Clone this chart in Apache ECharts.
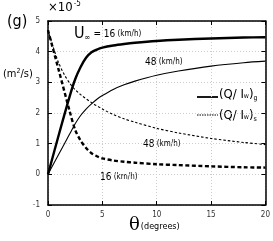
<!DOCTYPE html>
<html><head><meta charset="utf-8">
<script src="https://cdn.jsdelivr.net/npm/echarts@6/dist/echarts.min.js"></script>
<style>html,body{margin:0;padding:0;background:#fff}#c{width:273px;height:241px}</style>
</head><body><div id="c"></div>
<script>
const xTicks = [0, 5, 10, 15, 20];
const yTicks = [-1, 0, 1, 2, 3, 4, 5];
const thetaG16 = [0, 1, 2, 2.5, 3, 3.5, 4, 4.5, 5, 6, 7, 8, 10, 12, 15, 18, 20];
const g16 = [0, 1.3, 2.55, 3.1, 3.5, 3.8, 3.98, 4.07, 4.13, 4.2, 4.25, 4.29, 4.35, 4.39, 4.43, 4.46, 4.47];
const thetaG48 = [0, 1, 2, 2.5, 3, 3.5, 4, 4.5, 5, 6, 7, 8, 10, 12, 15, 18, 20];
const g48 = [0, 0.66, 1.32, 1.65, 1.92, 2.13, 2.3, 2.45, 2.57, 2.77, 2.92, 3.04, 3.23, 3.37, 3.53, 3.64, 3.69];
const thetaS16 = [0, 1, 2, 2.5, 3, 3.5, 4, 4.5, 5, 6, 7, 8, 10, 12, 15, 18, 20];
const s16 = [4.7, 3.38, 2.05, 1.45, 1.1, 0.86, 0.69, 0.59, 0.52, 0.45, 0.41, 0.38, 0.33, 0.3, 0.26, 0.23, 0.22];
const thetaS48 = [0, 0.5, 1, 1.5, 2, 2.5, 3, 4, 5, 6, 7, 8, 10, 12, 15, 18, 20];
const s48 = [4.7, 4.12, 3.62, 3.25, 2.97, 2.76, 2.6, 2.34, 2.13, 1.95, 1.81, 1.7, 1.5, 1.35, 1.17, 1.04, 0.97];

const FF = "'Liberation Sans Narrow','DejaVu Sans Condensed',sans-serif";
const pair = (xs, ys) => xs.map((x, i) => [x, ys[i]]);
const chart = echarts.init(document.getElementById('c'));
const axisCommon = {
  type: 'value', axisLine: {show: true, onZero: false, lineStyle: {color: '#000', width: 1.5}},
  axisTick: {show: true, inside: true, length: 4, lineStyle: {color: '#000', width: 1}},
  splitLine: {show: false}
};
const lineSeries = (name, data, w, type) => ({
  type: 'line', name, data, showSymbol: false, smooth: 0.3,
  lineStyle: {color: '#000', width: w, type: type}, silent: true, z: 3
});
chart.setOption({
  animation: false,
  grid: {left: 48, right: 4, top: 21, bottom: 36},
  xAxis: [
    Object.assign({}, axisCommon, {min: 0, max: 20, interval: 5, position: 'bottom',
      axisLabel: {color: '#333', fontSize: 8, fontFamily: FF, margin: 6},
      splitLine: {show: true, lineStyle: {color: '#ccc', type: [1, 2], width: 1}}}),
    Object.assign({}, axisCommon, {min: 0, max: 20, interval: 5, position: 'top', axisLabel: {show: false}})
  ],
  yAxis: [
    Object.assign({}, axisCommon, {min: -1, max: 5, interval: 1, position: 'left',
      axisLabel: {color: '#333', fontSize: 8, fontFamily: FF, margin: 8},
      splitLine: {show: true, lineStyle: {color: '#ccc', type: [1, 2], width: 1}}}),
    Object.assign({}, axisCommon, {min: -1, max: 5, interval: 1, position: 'right', axisLabel: {show: false}})
  ],
  series: [
    lineSeries('g16', pair(thetaG16, g16), 2.4, 'solid'),
    lineSeries('g48', pair(thetaG48, g48), 1.1, 'solid'),
    lineSeries('s16', pair(thetaS16, s16), 2.4, [4, 2.5]),
    lineSeries('s48', pair(thetaS48, s48), 1.1, [2.5, 2])
  ],
  graphic: [
    {type: 'text', left: 48, top: 0, style: {text: '×10{s|-5}', font: '13px ' + FF, fill: '#000',
      rich: {s: {fontSize: 8, verticalAlign: 'top', padding: [0, 0, 8, 1], fontFamily: FF}}}},
    {type: 'text', left: 7, top: 14, style: {text: '(g)', font: '16px ' + FF, fill: '#000'}},
    {type: 'text', left: 3, top: 68, style: {text: '(m{s|2}/s)', font: '11px ' + FF, fill: '#000',
      rich: {s: {fontSize: 7, padding: [0, 0, 6, 0], fontFamily: FF}}}},
    {type: 'text', left: 74, top: 26, style: {text: '{u|U}{i|∞}{n| = 16}{k| (km/h)}', fill: '#000',
      rich: {u: {fontSize: 16, fontFamily: FF}, i: {fontSize: 8, fontFamily: FF, padding: [8, 0, 0, 0]},
        n: {fontSize: 10, fontFamily: FF}, k: {fontSize: 8, fontFamily: FF}}}},
    {type: 'text', left: 145, top: 57, style: {text: '{n|48}{k| (km/h)}', fill: '#000',
      rich: {n: {fontSize: 10, fontFamily: FF}, k: {fontSize: 8, fontFamily: FF}}}},
    {type: 'text', left: 143, top: 139, style: {text: '{n|48}{k| (km/h)}', fill: '#000',
      rich: {n: {fontSize: 10, fontFamily: FF}, k: {fontSize: 8, fontFamily: FF}}}},
    {type: 'text', left: 100, top: 172, style: {text: '{n|16}{k| (km/h)}', fill: '#000',
      rich: {n: {fontSize: 10, fontFamily: FF}, k: {fontSize: 8, fontFamily: FF}}}},
    {type: 'line', shape: {x1: 197, y1: 97, x2: 218, y2: 97}, style: {stroke: '#000', lineWidth: 1.8}},
    {type: 'text', left: 219, top: 88, style: {text: '(Q/ I{w|w}){g|g}', font: '13px ' + FF, fill: '#000',
      rich: {w: {fontSize: 7, fontFamily: FF, padding: [4, 0, 0, 0]}, g: {fontSize: 7, fontFamily: FF, padding: [8, 0, 0, 0]}}}},
    {type: 'line', shape: {x1: 197, y1: 115, x2: 218, y2: 115}, style: {stroke: '#000', lineWidth: 1, lineDash: [1.5, 1]}},
    {type: 'text', left: 219, top: 109, style: {text: '(Q/ I{w|w}){g|s}', font: '13px ' + FF, fill: '#000',
      rich: {w: {fontSize: 7, fontFamily: FF, padding: [4, 0, 0, 0]}, g: {fontSize: 7, fontFamily: FF, padding: [8, 0, 0, 0]}}}},
    {type: 'text', left: 129, top: 216, style: {text: '{t|θ}{d|(degrees)}', fill: '#000',
      rich: {t: {fontSize: 18, fontFamily: "'DejaVu Serif',serif"}, d: {fontSize: 9, fontFamily: FF, padding: [4, 0, 0, 1]}}}}
  ]
});
</script></body></html>
